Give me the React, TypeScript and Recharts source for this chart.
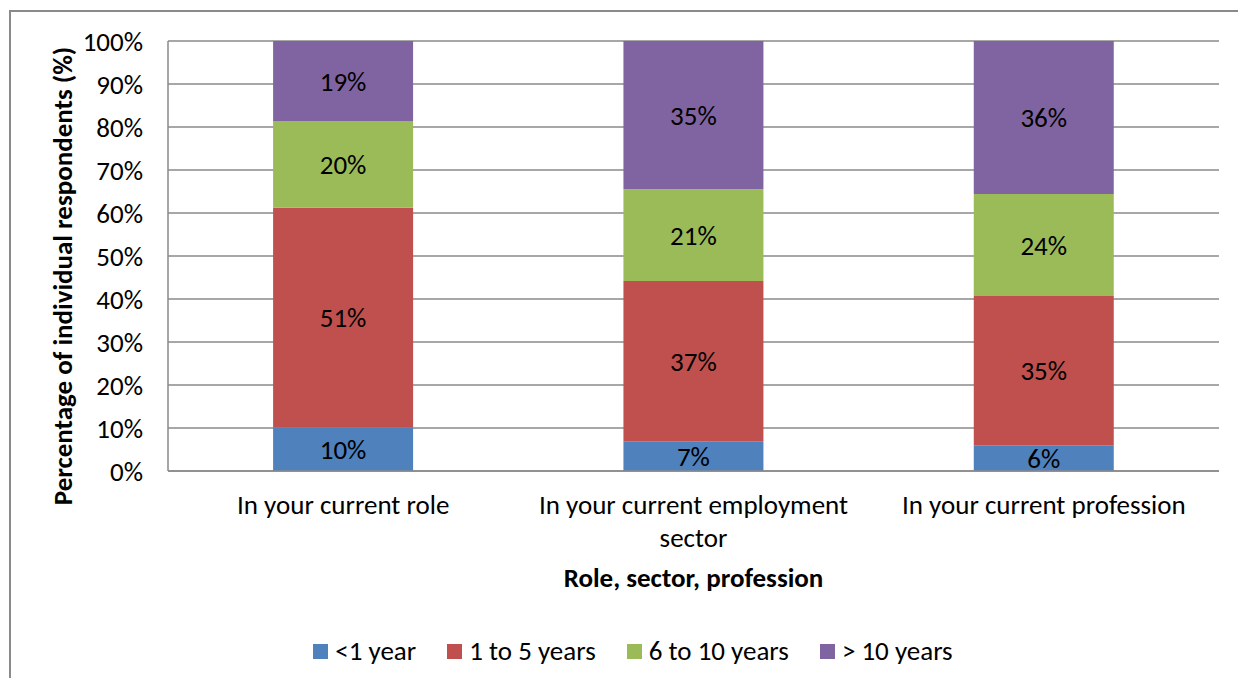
import * as React from "react";
import {
  BarChart,
  Bar,
  XAxis,
  YAxis,
  CartesianGrid,
  Legend,
  LabelList,
} from "recharts";

const CATEGORIES = [
  "In your current role",
  "In your current employment sector",
  "In your current profession",
];
const LESS_THAN_1 = [10.2, 6.9, 6.0];
const ONE_TO_5 = [51.0, 37.3, 34.7];
const SIX_TO_10 = [20.2, 21.3, 23.7];
const OVER_10 = [18.6, 34.5, 35.6];
const Y_TICKS = [0, 10, 20, 30, 40, 50, 60, 70, 80, 90, 100];

const SERIES = [
  { key: "lt1", name: "<1 year", values: LESS_THAN_1, color: "#4F81BD" },
  { key: "y1to5", name: "1 to 5 years", values: ONE_TO_5, color: "#C0504D" },
  { key: "y6to10", name: "6 to 10 years", values: SIX_TO_10, color: "#9BBB59" },
  { key: "gt10", name: "> 10 years", values: OVER_10, color: "#8064A2" },
];

const rows = CATEGORIES.map((cat, i) => {
  const row: Record<string, string | number> = { cat };
  SERIES.forEach((s) => (row[s.key] = s.values[i]));
  return row;
});

const FONT = "Carlito, Calibri, Lato, sans-serif";
const FS = 27;
const GRID = "#8a8a8a";

// wrap long category names onto a second line (Excel-style)
function wrap(text: string, max = 28) {
  const lines: string[] = [];
  let cur = "";
  text.split(" ").forEach((w) => {
    if (cur && (cur + " " + w).length > max) {
      lines.push(cur);
      cur = w;
    } else cur = cur ? cur + " " + w : w;
  });
  if (cur) lines.push(cur);
  return lines;
}

function CatTick(props: any) {
  const { x, y, payload } = props;
  const lines = wrap(String(payload.value));
  return (
    <text x={x} y={y} textAnchor="middle" fontSize={FS} fontFamily={FONT} fill="#000">
      {lines.map((l, i) => (
        <tspan key={i} x={x} dy={i === 0 ? 43 : 33}>
          {l}
        </tspan>
      ))}
    </text>
  );
}

// legend keeps series order (not sorted)
function LegendBox() {
  return (
    <div
      style={{
        display: "flex",
        justifyContent: "center",
        gap: 31,
        fontFamily: FONT,
        fontSize: FS,
        lineHeight: "32px",
        color: "#000",
      }}
    >
      {SERIES.map((s) => (
        <div key={s.key} style={{ display: "flex", alignItems: "center", gap: 7 }}>
          <span style={{ width: 15, height: 15, background: s.color, display: "inline-block" }} />
          <span>{s.name}</span>
        </div>
      ))}
    </div>
  );
}

export default function App() {
  return (
    <div
      style={{
        position: "relative",
        width: 1246,
        height: 686,
        margin: -8,
        overflow: "hidden",
        background: "#fff",
      }}
    >
      <div
        style={{
          position: "absolute",
          left: 9,
          top: 10,
          width: 1300,
          height: 700,
          border: `2px solid ${GRID}`,
        }}
      />
      <div style={{ position: "absolute", left: 0, top: 0 }}>
        <BarChart
          width={1246}
          height={686}
          data={rows}
          margin={{ top: 41, right: 27, left: 0, bottom: 90 }}
          barCategoryGap="30%"
        >
          <CartesianGrid vertical={false} stroke={GRID} strokeWidth={1.5} />
          <XAxis
            dataKey="cat"
            height={125}
            axisLine={{ stroke: GRID, strokeWidth: 1.5 }}
            tickLine={false}
            tickSize={0}
            tickMargin={0}
            tick={<CatTick />}
            interval={0}
            label={{
              content: (p: any) => {
                const vb = p.viewBox;
                return (
                  <text
                    x={vb.x + vb.width / 2}
                    y={vb.y + 116}
                    textAnchor="middle"
                    fontSize={FS}
                    fontWeight="bold"
                    fontFamily={FONT}
                    fill="#000"
                  >
                    Role, sector, profession
                  </text>
                );
              },
            }}
          />
          <YAxis
            width={168}
            domain={[0, 100]}
            ticks={Y_TICKS}
            interval={0}
            axisLine={{ stroke: GRID, strokeWidth: 1.5 }}
            tickLine={false}
            tickSize={0}
            tickMargin={25}
            tickFormatter={(v: number) => `${v}%`}
            tick={{ fontSize: FS, fontFamily: FONT, fill: "#000" }}
            label={{
              content: (p: any) => {
                const vb = p.viewBox;
                const cx = 62;
                const cy = vb.y + vb.height / 2 + 20;
                return (
                  <text
                    x={cx}
                    y={cy}
                    transform={`rotate(-90 ${cx} ${cy})`}
                    textAnchor="middle"
                    dominantBaseline="central"
                    fontSize={FS}
                    fontWeight="bold"
                    fontFamily={FONT}
                    fill="#000"
                  >
                    Percentage of individual respondents (%)
                  </text>
                );
              },
            }}
          />
          <Legend
            layout="horizontal"
            verticalAlign="middle"
            align="center"
            wrapperStyle={{ top: 635, left: 0, width: 1266 }}
            content={<LegendBox />}
          />
          {SERIES.map((s) => (
            <Bar
              key={s.key}
              dataKey={s.key}
              name={s.name}
              stackId="a"
              fill={s.color}
              isAnimationActive={false}
            >
              <LabelList
                dataKey={s.key}
                position="center"
                formatter={(v: any) => `${Math.round(Number(v))}%`}
                style={{ fontSize: FS, fontFamily: FONT, fill: "#000" }}
              />
            </Bar>
          ))}
        </BarChart>
      </div>
    </div>
  );
}
